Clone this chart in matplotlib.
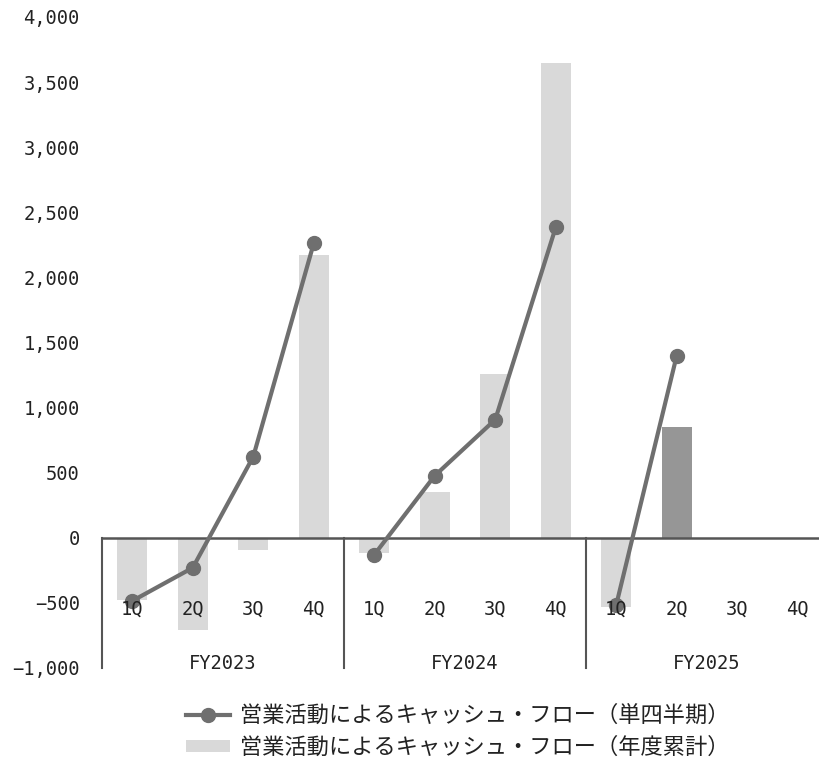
import matplotlib
matplotlib.use("Agg")
import matplotlib.pyplot as plt
from matplotlib.patches import Patch
from matplotlib.lines import Line2D
import numpy as np

plt.rcParams['font.family'] = ['Noto Sans CJK JP', 'DejaVu Sans']

fiscal_years = ["FY2023", "FY2024", "FY2025"]
quarters = ["1Q", "2Q", "3Q", "4Q"]

# quarterly operating cash flow (line), per fiscal year
quarterly_fy2023 = [-485, -230, 623, 2262]
quarterly_fy2024 = [-130, 477, 908, 2385]
quarterly_fy2025 = [-515, 1400]

# cumulative operating cash flow (bars), per fiscal year
cumulative_fy2023 = [-480, -710, -90, 2170]
cumulative_fy2024 = [-120, 350, 1260, 3650]
cumulative_fy2025 = [-530, 850]

yticks = [-1000, -500, 0, 500, 1000, 1500, 2000, 2500, 3000, 3500, 4000]
legend_line = "営業活動によるキャッシュ・フロー（単四半期）"
legend_bar = "営業活動によるキャッシュ・フロー（年度累計）"

line_color = "#6f6f6f"
bar_color = "#d9d9d9"
bar_dark = "#969696"
text_color = "#222222"
mono = ['DejaVu Sans Mono']

fig = plt.figure(figsize=(8.19, 7.58), dpi=100)
ax = fig.add_axes([102/819, (758-668)/758, (828-102)/819, (668-17)/758])

quarterly = [quarterly_fy2023, quarterly_fy2024, quarterly_fy2025]
cumulative = [cumulative_fy2023, cumulative_fy2024, cumulative_fy2025]

for i, (q, c) in enumerate(zip(quarterly, cumulative)):
    xs = np.arange(len(c)) + 4 * i
    colors = [bar_color] * len(c)
    if i == 2:
        colors[-1] = bar_dark
    ax.bar(xs, c, width=0.5, color=colors, zorder=1)
    xq = np.arange(len(q)) + 4 * i
    ax.plot(xq, q, color=line_color, lw=3, marker='o', markersize=10,
            markerfacecolor=line_color, markeredgecolor=line_color, zorder=3)

ax.set_xlim(-0.5, 11.5)
ax.set_ylim(-1000, 4000)
for s in ax.spines.values():
    s.set_visible(False)
ax.set_xticks([])
ax.set_yticks(yticks)
ax.set_yticklabels([f"{v:,}".replace("-", "\u2212") for v in yticks],
                   fontsize=13.5, color=text_color, family=mono)
ax.tick_params(axis='y', length=0, pad=16)

# zero axis line
ax.axhline(0, color="#555555", lw=1.8, zorder=2)
# group separators
for xb in [-0.5, 3.5, 7.5, 11.5]:
    ax.plot([xb, xb], [0, -1000], color="#555555", lw=1.5, zorder=2, clip_on=False)

for i, fy in enumerate(fiscal_years):
    for j, qn in enumerate(quarters):
        ax.text(4 * i + j, -545, qn, ha='center', va='center', fontsize=13.5,
                color=text_color, family=mono, zorder=4)
    ax.text(4 * i + 1.5, -965, fy, ha='center', va='center', fontsize=13.5,
            color=text_color, family=mono)

handles = [Line2D([0], [0], color=line_color, lw=3, marker='o', markersize=10),
           Patch(facecolor=bar_color, edgecolor='none')]
fig.legend(handles, [legend_line, legend_bar], loc='center',
           bbox_to_anchor=(458/819, 1 - 731/758), frameon=False, fontsize=16,
           handlelength=2.0, handleheight=0.45, labelspacing=0.4, handletextpad=0.45,
           labelcolor=text_color)

fig.savefig("out.png", dpi=100)
